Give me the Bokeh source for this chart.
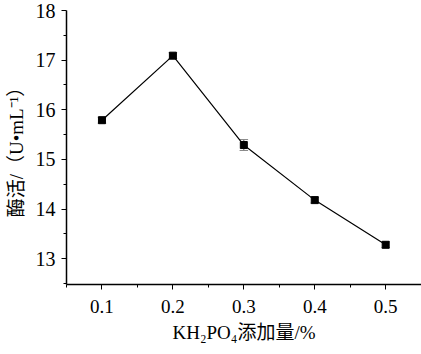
from bokeh.plotting import figure
from bokeh.models import Range1d, FixedTicker, ColumnDataSource
from bokeh.embed import file_html
from bokeh.resources import INLINE

x_vals = [0.1, 0.2, 0.3, 0.4, 0.5]
activity = [15.79, 17.09, 15.29, 14.18, 13.28]
err = [0.06, 0.06, 0.11, 0.06, 0.06]
x_ticks = [0.1, 0.2, 0.3, 0.4, 0.5]
y_ticks = [13, 14, 15, 16, 17, 18]

FONT = "Liberation Serif, Times New Roman, Noto Sans CJK SC"

p = figure(width=421, height=354, output_backend="svg", toolbar_location=None,
           x_range=Range1d(0.05, 0.5505), y_range=Range1d(12.48, 18.0),
           min_border_left=66, min_border_right=0, min_border_top=10, min_border_bottom=70)
p.outline_line_color = None
p.xgrid.visible = False
p.ygrid.visible = False

src = ColumnDataSource(dict(x=x_vals, y=activity,
                            lo=[a - e for a, e in zip(activity, err)],
                            hi=[a + e for a, e in zip(activity, err)]))

p.segment(x0="x", y0="lo", x1="x", y1="hi", source=src, line_color="#555555", line_width=1)
cw = 0.006
p.segment(x0=[x - cw for x in x_vals], y0=src.data["lo"], x1=[x + cw for x in x_vals], y1=src.data["lo"],
          line_color="#888888", line_width=1)
p.segment(x0=[x - cw for x in x_vals], y0=src.data["hi"], x1=[x + cw for x in x_vals], y1=src.data["hi"],
          line_color="#888888", line_width=1)
p.line("x", "y", source=src, line_color="black", line_width=1.2)
p.scatter("x", "y", source=src, marker="square", size=7, fill_color="black", line_color="black")

for ax in (p.xaxis[0], p.yaxis[0]):
    ax.axis_line_color = "black"
    ax.axis_line_width = 1.5
    ax.major_tick_line_color = "black"
    ax.minor_tick_line_color = "black"
    ax.major_tick_out = 5
    ax.major_tick_in = 0
    ax.minor_tick_out = 3
    ax.minor_tick_in = 0
    ax.major_label_text_font = FONT
    ax.major_label_text_color = "black"
    ax.axis_label_text_font = FONT
    ax.axis_label_text_font_style = "normal"
    ax.axis_label_text_color = "black"

p.xaxis[0].ticker = FixedTicker(ticks=x_ticks, minor_ticks=[0.05, 0.15, 0.25, 0.35, 0.45, 0.55])
p.yaxis[0].ticker = FixedTicker(ticks=y_ticks, minor_ticks=[12.5, 13.5, 14.5, 15.5, 16.5, 17.5])
p.xaxis[0].major_label_text_font_size = "19px"
p.yaxis[0].major_label_text_font_size = "20px"
p.xaxis[0].major_label_standoff = 10
p.yaxis[0].major_label_standoff = 6
p.xaxis[0].axis_label = "KH₂PO₄添加量/%"
p.xaxis[0].axis_label_text_font_size = "19px"
p.xaxis[0].axis_label_standoff = 6
p.yaxis[0].axis_label = "酶活/（U•mL⁻¹）"
p.yaxis[0].axis_label_text_font_size = "19px"
p.yaxis[0].axis_label_standoff = 6

open("out.html", "w").write(file_html(p, INLINE))
